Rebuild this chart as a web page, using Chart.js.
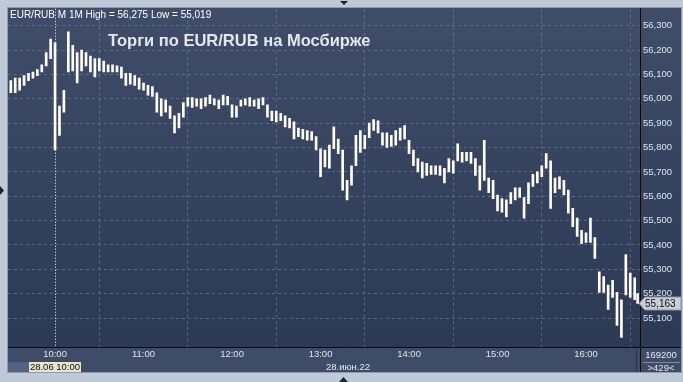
<!DOCTYPE html>
<html><head><meta charset="utf-8">
<script src="https://cdn.jsdelivr.net/npm/chart.js@4/dist/chart.umd.min.js"></script>
<style>html,body{margin:0;padding:0;background:#bfc9d7;overflow:hidden}canvas{display:block}</style>
</head><body>
<canvas id="c" width="683" height="382"></canvas>
<script>
// minutes from 10:00, 3-minute bars
const times = [-30,-27,-24,-21,-18,-15,-12,-9,-6,-3,0,3,6,9,12,15,18,21,24,27,30,33,36,39,42,45,48,51,54,57,60,63,66,69,72,75,78,81,84,87,90,93,96,99,102,105,108,111,114,117,120,123,126,129,132,135,138,141,144,147,150,153,156,159,162,165,168,171,174,177,180,183,186,189,192,195,198,201,204,207,210,213,216,219,222,225,228,231,234,237,240,243,246,249,252,255,258,261,264,267,270,273,276,279,282,285,288,291,294,297,300,303,306,309,312,315,318,321,324,327,330,333,336,339,342,345,348,351,354,357,360,363,366,369,372,375,378,381,384,387,390,393,395];
const lows = [56025,56025,56035,56055,56075,56085,56095,56110,56135,56165,55790,55850,55945,56110,56115,56065,56115,56135,56110,56090,56115,56110,56110,56110,56110,56085,56055,56060,56055,56040,56035,56015,56010,55945,55930,55945,55920,55860,55880,55925,55970,55965,55970,55960,55970,55980,55975,55960,55975,55975,55925,55925,55970,55975,55970,55970,55960,55975,55925,55910,55905,55910,55885,55880,55835,55845,55835,55830,55830,55790,55680,55720,55715,55795,55775,55625,55585,55645,55725,55780,55795,55840,55870,55860,55810,55800,55805,55810,55830,55835,55775,55725,55700,55675,55685,55690,55690,55685,55655,55700,55695,55745,55740,55745,55735,55685,55625,55665,55615,55590,55540,55535,55515,55570,55585,55595,55510,55570,55640,55655,55680,55715,55550,55615,55630,55605,55530,55475,55435,55405,55410,55410,55345,55205,55205,55135,55185,55070,55020,55195,55185,55175,55160];
const highs = [56075,56085,56085,56095,56105,56110,56120,56140,56190,56245,56230,55970,56035,56275,56220,56190,56200,56190,56175,56165,56165,56155,56140,56140,56135,56130,56105,56105,56095,56085,56065,56055,56050,56025,56000,55995,55970,55930,55940,55985,56005,56005,56000,56000,56005,56015,56000,55995,56015,56010,55975,55970,55995,56000,56005,55995,56000,56005,55975,55950,55950,55940,55930,55920,55905,55880,55875,55870,55865,55845,55795,55790,55810,55885,55835,55790,55665,55725,55850,55870,55850,55900,55915,55910,55860,55860,55850,55870,55880,55890,55830,55790,55755,55740,55735,55725,55725,55725,55715,55755,55745,55815,55780,55780,55780,55755,55725,55830,55675,55665,55605,55590,55585,55615,55635,55635,55595,55655,55690,55700,55725,55775,55745,55675,55680,55665,55625,55550,55510,55460,55450,55510,55430,55290,55270,55235,55255,55205,55175,55360,55285,55265,55200];
const hourTicks = [0,60,120,180,240,300,360];
const hourLabels = ['10:00','11:00','12:00','13:00','14:00','15:00','16:00'];
const priceTicks = [55100,55200,55300,55400,55500,55600,55700,55800,55900,56000,56100,56200,56300];
const lastPrice = 55163;
const headerText = 'EUR/RUB M 1M High = 56,275 Low = 55,019';
const titleText = 'Торги по EUR/RUB на Мосбирже';
const cursorLabel = '28.06 10:00';
const dateLabel = '28.июн.22';
const volText = '169200';
const countText = '>429<';

const FAM = '"Liberation Sans", Arial, sans-serif';
const fmt = v => Number(v).toLocaleString('en-US');

const deco = {
  id: 'deco',
  beforeDraw(chart) {
    const {ctx, chartArea: a} = chart;
    ctx.save();
    ctx.fillStyle = '#bfc9d7';
    ctx.fillRect(0, 0, 683, 382);
    ctx.fillStyle = '#8e9ab0';
    ctx.fillRect(7, 7, 675, 366);
    const g = ctx.createLinearGradient(0, a.top, 0, a.bottom);
    g.addColorStop(0, '#3f4d68');
    g.addColorStop(1, '#2c3954');
    ctx.fillStyle = g;
    ctx.fillRect(8, 8, 673, a.bottom - 8);
    ctx.fillStyle = '#3f4c67';
    ctx.fillRect(8, a.bottom, 673, 372 - a.bottom);
    ctx.restore();
  },
  beforeDatasetsDraw(chart) {
    const {ctx, chartArea: a, scales} = chart;
    const x = Math.round(scales.x.getPixelForValue(0)) + 0.5;
    ctx.save();
    ctx.strokeStyle = '#ffffff';
    ctx.lineWidth = 1;
    ctx.setLineDash([1, 2]);
    ctx.beginPath();
    ctx.moveTo(x, a.top);
    ctx.lineTo(x, a.bottom);
    ctx.stroke();
    ctx.restore();
  },
  afterDraw(chart) {
    const {ctx, chartArea: a, scales} = chart;
    ctx.save();
    ctx.strokeStyle = '#0a0a10';
    ctx.lineWidth = 1;
    ctx.beginPath();
    ctx.moveTo(a.right + 0.5, 8); ctx.lineTo(a.right + 0.5, 372);
    ctx.moveTo(8, a.bottom + 0.5); ctx.lineTo(681, a.bottom + 0.5);
    ctx.stroke();
    ctx.strokeStyle = '#2a3448';
    ctx.beginPath();
    ctx.moveTo(636.5, 350); ctx.lineTo(636.5, 372);
    ctx.stroke();
    ctx.strokeStyle = '#7d8aa3';
    ctx.beginPath();
    ctx.moveTo(643, 362.5); ctx.lineTo(680, 362.5);
    ctx.stroke();
    ctx.fillStyle = '#ffffff';
    ctx.font = '10px ' + FAM;
    ctx.textBaseline = 'middle';
    ctx.textAlign = 'left';
    ctx.fillText(headerText, 10, 15.5);
    ctx.fillStyle = '#e4e7ee';
    ctx.font = 'bold 16.5px ' + FAM;
    ctx.textBaseline = 'alphabetic';
    ctx.fillText(titleText, 108, 45.5);
    const py = Math.round(scales.y.getPixelForValue(lastPrice)) + 0.5;
    ctx.beginPath();
    ctx.moveTo(639, py);
    ctx.lineTo(645, py - 6.5);
    ctx.lineTo(681, py - 6.5);
    ctx.lineTo(681, py + 6.5);
    ctx.lineTo(645, py + 6.5);
    ctx.closePath();
    ctx.fillStyle = '#c8cdd6';
    ctx.fill();
    ctx.strokeStyle = '#8b94a6';
    ctx.stroke();
    ctx.fillStyle = '#101018';
    ctx.font = '10px ' + FAM;
    ctx.textBaseline = 'middle';
    ctx.fillText(fmt(lastPrice), 645, py + 0.5);
    ctx.fillStyle = '#52627f';
    ctx.fillRect(8, 362, 21, 10);
    ctx.fillStyle = '#e7e5cb';
    ctx.fillRect(29, 362, 52, 10);
    ctx.fillStyle = '#101010';
    ctx.font = '9.5px ' + FAM;
    ctx.textAlign = 'center';
    ctx.fillText(cursorLabel, 55, 367.5);
    ctx.fillStyle = '#e2e7f0';
    ctx.fillText(dateLabel, 348, 367.5);
    ctx.fillText(volText, 661, 355.5);
    ctx.fillText(countText, 661, 368);
    ctx.fillStyle = '#1d2330';
    ctx.beginPath(); ctx.moveTo(340, 1); ctx.lineTo(348, 1); ctx.lineTo(344, 5); ctx.closePath(); ctx.fill();
    ctx.beginPath(); ctx.moveTo(339, 382); ctx.lineTo(348, 382); ctx.lineTo(343.5, 377); ctx.closePath(); ctx.fill();
    ctx.beginPath(); ctx.moveTo(0, 186); ctx.lineTo(0, 195); ctx.lineTo(4, 190.5); ctx.closePath(); ctx.fill();
    ctx.restore();
  }
};

const gridCol = 'rgba(120,138,168,0.55)';
new Chart(document.getElementById('c'), {
  type: 'bar',
  data: {
    datasets: [{
      data: times.map((t, i) => ({x: t, y: [lows[i], highs[i]]})),
      backgroundColor: '#fffdf8',
      borderWidth: 0,
      borderSkipped: false,
      barThickness: 2,
      grouped: false
    }]
  },
  options: {
    responsive: false,
    animation: false,
    devicePixelRatio: 1,
    layout: {padding: {left: 8, top: 8, right: 0, bottom: 0}},
    plugins: {legend: {display: false}, tooltip: {enabled: false}},
    scales: {
      x: {
        type: 'linear', min: -31.9, max: 396.6, position: 'bottom', offset: false,
        afterBuildTicks: s => { s.ticks = hourTicks.map(v => ({value: v})); },
        afterFit: s => { s.height = 35; },
        ticks: {
          callback: v => hourLabels[hourTicks.indexOf(v)],
          color: '#dce3ef', font: {size: 9.5, family: FAM}, padding: 2,
          maxRotation: 0, autoSkip: false
        },
        grid: {
          color: c => (c.tick && c.tick.value === 0) ? 'rgba(0,0,0,0)' : gridCol,
          drawTicks: false, lineWidth: 1, borderDash: [3, 3]
        },
        border: {display: false, dash: [3, 3]}
      },
      y: {
        position: 'right', min: 54981, max: 56370,
        afterBuildTicks: s => { s.ticks = priceTicks.map(v => ({value: v})); },
        afterFit: s => { s.width = 43; },
        ticks: {callback: v => fmt(v), color: '#dce3ef', font: {size: 9.5, family: FAM}, padding: 3},
        grid: {color: gridCol, drawTicks: false, lineWidth: 1, borderDash: [3, 3]},
        border: {display: false, dash: [3, 3]}
      }
    }
  },
  plugins: [deco]
});
</script>
</body></html>
